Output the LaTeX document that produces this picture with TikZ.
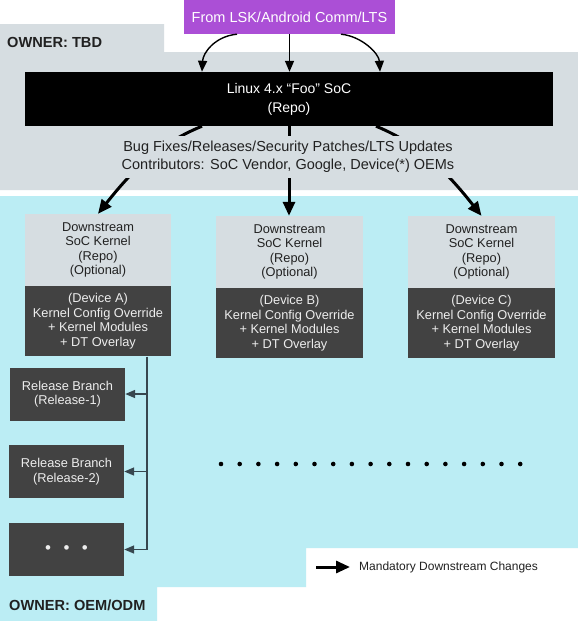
\documentclass[tikz,border=0pt]{standalone}
\usepackage{fontspec}
\setmainfont{Liberation Sans}
\usetikzlibrary{arrows.meta,calc}
\definecolor{graybg}{HTML}{D6DDE1}
\definecolor{cyanbg}{HTML}{BBEDF4}
\definecolor{purplebox}{HTML}{AB4FD6}
\definecolor{darkbox}{HTML}{424242}
\definecolor{linegray}{HTML}{37474F}
\definecolor{inktext}{HTML}{212121}
\begin{document}
\begin{tikzpicture}[x=1pt,y=-1pt,
  box/.style={rectangle,inner sep=0pt,align=center},
  topbox/.style={box,fill=graybg,text=inktext,font=\fontsize{12.8}{14.5}\selectfont},
  devbox/.style={box,fill=darkbox,text=white!93!black,font=\fontsize{12.8}{14.5}\selectfont},
  relbox/.style={devbox,minimum width=115pt,minimum height=53pt},
  owner/.style={anchor=west,inner sep=0pt,text=inktext,font=\fontsize{14.6}{17}\selectfont\bfseries},
  thinarrow/.style={line width=1.4pt,-{Triangle[length=11pt,width=9pt]}},
  thickarrow/.style={line width=3pt,-{Triangle[length=14pt,width=12pt]}},
  relarrow/.style={draw=linegray,line width=1.6pt,-{Triangle[length=10pt,width=8pt]}}
]
\fill[white] (0,0) rectangle (578,621);
\path[use as bounding box] (0,0) rectangle (578,621);

% regions
\fill[graybg] (0,24) -- (164,24) -- (164,52) -- (578,52) -- (578,190) -- (0,190) -- cycle;
\fill[cyanbg] (0,196) -- (578,196) -- (578,548) -- (306,548) -- (306,587) -- (157,587) -- (157,621) -- (0,621) -- cycle;

\node[owner] (ownTBD) at (7,42) {OWNER: TBD};
\node[owner] (ownOEM) at (9,605) {OWNER: OEM/ODM};

% top
\node[box,fill=purplebox,text=white,minimum width=211pt,minimum height=34pt,font=\fontsize{14.5}{17}\selectfont] (src) at (289.5,17) {From LSK/Android Comm/LTS};
\node[box,fill=black,text=white,minimum width=528pt,minimum height=54pt,font=\fontsize{14}{19}\selectfont] (linux) at (289,99) {Linux 4.x “Foo” SoC\\(Repo)};

\draw[thinarrow] ([xshift=-52.5pt]src.south) .. controls +(-22,2) and +(1,-19) .. ([xshift=-87pt]linux.north);
\draw[thinarrow] (src.south) -- (src.south |- linux.north);
\draw[thinarrow] ([xshift=51.5pt]src.south) .. controls +(21,2) and +(-1,-18) .. ([xshift=91pt]linux.north);

% downstream boxes
\node[topbox,minimum width=146pt,minimum height=72pt] (dsA) at (98,250) {Downstream\\SoC Kernel\\(Repo)\\(Optional)};
\node[devbox,minimum width=146pt,minimum height=70pt,anchor=north] (devA) at (dsA.south) {(Device A)\\Kernel Config Override\\+ Kernel Modules\\+ DT Overlay};
\node[topbox,minimum width=147pt,minimum height=72pt] (dsB) at (289.5,252) {Downstream\\SoC Kernel\\(Repo)\\(Optional)};
\node[devbox,minimum width=147pt,minimum height=70pt,anchor=north] (devB) at (dsB.south) {(Device B)\\Kernel Config Override\\+ Kernel Modules\\+ DT Overlay};
\node[topbox,minimum width=147pt,minimum height=72pt] (dsC) at (481.5,252) {Downstream\\SoC Kernel\\(Repo)\\(Optional)};
\node[devbox,minimum width=147pt,minimum height=70pt,anchor=north] (devC) at (dsC.south) {(Device C)\\Kernel Config Override\\+ Kernel Modules\\+ DT Overlay};

\draw[thickarrow] ([xshift=-87pt]linux.south) .. controls +(-44,18) and +(34,-43) .. (dsA.north);
\draw[thickarrow] (linux.south) -- (linux.south |- dsB.north);
\draw[thickarrow] ([xshift=87pt]linux.south) .. controls +(44,18) and +(-34,-43) .. (dsC.north);

\node[fill=graybg,inner xsep=4pt,inner ysep=5pt,align=center,text=inktext,font=\fontsize{14.5}{18}\selectfont] (bug) at (288,157) {Bug Fixes/Releases/Security Patches/LTS Updates\\Contributors: SoC Vendor, Google, Device(*) OEMs};

% release branches
\node[relbox] (rel1) at (67.5,394) {Release Branch\\(Release-1)};
\node[relbox] (rel2) at (66.5,471.5) {Release Branch\\(Release-2)};
\node[relbox] (rel3) at (66.5,549.5) {\fontsize{17}{17}\selectfont\raisebox{-3pt}{\textbullet\hspace{12.5pt}\textbullet\hspace{12.5pt}\textbullet}};

\coordinate (trunk) at ([xshift=49pt]devA.south);
\draw[relarrow] (trunk) |- (rel3.east);
\draw[relarrow] (trunk |- rel1.east) -- (rel1.east);
\draw[relarrow] (trunk |- rel2.east) -- (rel2.east);

% dotted row
\foreach \i in {0,...,16} {
  \fill[black] ({221+18.7*\i},464) circle (2.3);
}

% legend
\coordinate (lgA) at (316,567);
\coordinate (lgB) at (350,567);
\draw[thickarrow] (lgA) -- (lgB);
\node[anchor=west,inner sep=0pt,text=inktext,font=\fontsize{12}{14}\selectfont] (legtext) at (359,567) {Mandatory Downstream Changes};
\end{tikzpicture}
\end{document}
